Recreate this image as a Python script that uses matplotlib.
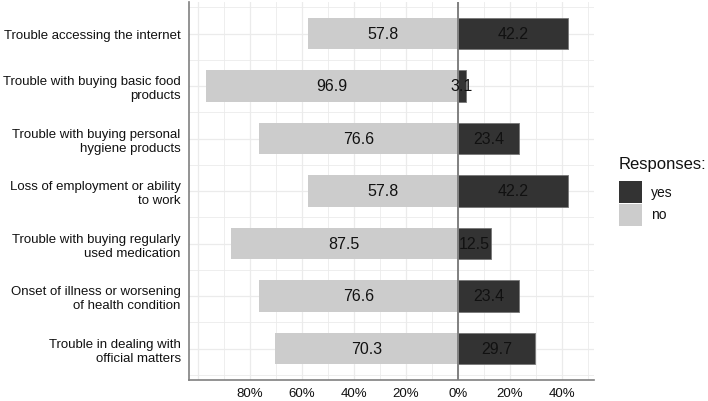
import matplotlib
matplotlib.use("Agg")
import matplotlib.pyplot as plt
from matplotlib.patches import Rectangle
import numpy as np

plt.rcParams['font.family'] = ['Liberation Sans', 'DejaVu Sans']

categories = [
    "Trouble accessing the internet",
    "Trouble with buying basic food\nproducts",
    "Trouble with buying personal\nhygiene products",
    "Loss of employment or ability\nto work",
    "Trouble with buying regularly\nused medication",
    "Onset of illness or worsening\nof health condition",
    "Trouble in dealing with\nofficial matters",
]
no_vals = [57.8, 96.9, 76.6, 57.8, 87.5, 76.6, 70.3]
yes_vals = [42.2, 3.1, 23.4, 42.2, 12.5, 23.4, 29.7]
tick_vals = [-80, -60, -40, -20, 0, 20, 40]
tick_labels = ["80%", "60%", "40%", "20%", "0%", "20%", "40%"]
legend_labels = ["yes", "no"]

YES_COL = "#333333"
NO_COL = "#cccccc"
W, H = 708, 402

fig = plt.figure(figsize=(W / 100, H / 100), dpi=100)
ax = fig.add_axes([189 / W, 21 / H, 405 / W, 378 / H])

y = np.arange(len(categories))[::-1] + 1
no = np.array(no_vals)
yes = np.array(yes_vals)

# grid
for gx in np.arange(-100, 51, 10):
    ax.axvline(gx, color="#ebebeb", lw=0.9 if gx % 20 == 0 else 0.6, zorder=0)
for gy in np.arange(0.5, 7.6, 0.5):
    ax.axhline(gy, color="#ebebeb", lw=0.9 if gy % 1 == 0 else 0.6, zorder=0)

ax.barh(y, -no, height=0.6, color=NO_COL, zorder=2)
ax.barh(y, yes, height=0.6, color=YES_COL, edgecolor="#777777", lw=0.6, zorder=2)
ax.axvline(0, color="#808080", lw=1.4, zorder=3)

for yi, n, ye in zip(y, no, yes):
    ax.text(-n / 2, yi, f"{n:.1f}", ha="center", va="center", fontsize=11.5,
            color="#111111", zorder=4)
    ax.text(ye / 2, yi, f"{ye:.1f}", ha="center", va="center", fontsize=11.5,
            color="#111111", zorder=4)

ax.set_xlim(-103.5, 52.3)
ax.set_ylim(0.4, 7.6)
ax.set_xticks(tick_vals)
ax.set_xticklabels(tick_labels)
ax.set_yticks(y)
ax.set_yticklabels(categories)
ax.tick_params(axis="both", length=0, labelsize=9.5, labelcolor="#111111")
ax.tick_params(axis="x", pad=5)
ax.tick_params(axis="y", pad=6)
for lab in ax.get_yticklabels():
    lab.set_multialignment("right")

for side in ["top", "right"]:
    ax.spines[side].set_visible(False)
for side in ["left", "bottom"]:
    ax.spines[side].set_color("#808080")
    ax.spines[side].set_linewidth(1.2)

# legend drawn by hand to match the ggplot layout
fig.text(619 / W, 1 - 165 / H, "Responses:", fontsize=12, ha="left",
         va="center", color="#111111")
for i, (lab, col) in enumerate(zip(legend_labels, [YES_COL, NO_COL])):
    top = 182 + i * 22.5
    fig.patches.append(Rectangle((619 / W, 1 - (top + 22) / H), 23 / W, 22 / H,
                                 transform=fig.transFigure, facecolor=col,
                                 edgecolor="none"))
    fig.text(651 / W, 1 - (top + 11) / H, lab, fontsize=10, ha="left",
             va="center", color="#111111")

fig.savefig("out.png", dpi=100)
